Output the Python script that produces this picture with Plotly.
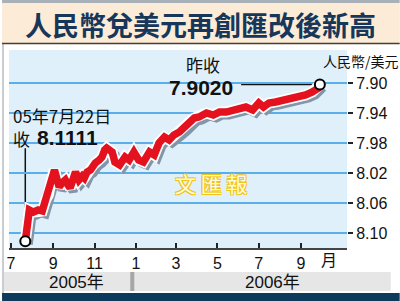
import plotly.graph_objects as go

# ---- data ----
dates = ["2005-07-22", "2005-07-28", "2005-08-03", "2005-08-10", "2005-08-16", "2005-08-21",
         "2005-08-25", "2005-08-30", "2005-09-03", "2005-09-07", "2005-09-10", "2005-09-14",
         "2005-09-19", "2005-09-23", "2005-09-26", "2005-10-01", "2005-10-04", "2005-10-09",
         "2005-10-14", "2005-10-17", "2005-10-21", "2005-10-26", "2005-10-30", "2005-11-02",
         "2005-11-08", "2005-11-12", "2005-11-16", "2005-11-19", "2005-11-27", "2005-12-01",
         "2005-12-08", "2005-12-16", "2005-12-22", "2005-12-29", "2006-01-05", "2006-01-12",
         "2006-01-21", "2006-01-28", "2006-02-04", "2006-02-12", "2006-02-19", "2006-02-26",
         "2006-03-06", "2006-03-13", "2006-03-21", "2006-03-28", "2006-04-04", "2006-04-15",
         "2006-04-25", "2006-05-04", "2006-05-14", "2006-05-24", "2006-06-02", "2006-06-12",
         "2006-06-22", "2006-07-01", "2006-07-08", "2006-07-16", "2006-07-26", "2006-08-10",
         "2006-08-24", "2006-09-08", "2006-09-18", "2006-09-27", "2006-09-29"]
rates = [8.1111, 8.0693, 8.0720, 8.0693, 8.0707, 8.0560,
         8.0493, 8.0267, 8.0160, 8.0293, 8.0387, 8.0333,
         8.0293, 8.0360, 8.0400, 8.0267, 8.0187, 8.0293,
         8.0240, 8.0267, 8.0187, 8.0160, 8.0093, 8.0067,
         8.0027, 7.9987, 7.9893, 7.9867, 7.9920, 8.0053,
         8.0093, 7.9987, 8.0027, 7.9920, 8.0027, 8.0053,
         7.9920, 7.9960, 7.9800, 7.9720, 7.9760, 7.9693,
         7.9653, 7.9600, 7.9520, 7.9467, 7.9453, 7.9400,
         7.9427, 7.9387, 7.9387, 7.9360, 7.9333, 7.9320,
         7.9360, 7.9267, 7.9320, 7.9267, 7.9253, 7.9227,
         7.9200, 7.9160, 7.9120, 7.9067, 7.9020]

x_tick_dates = ["2005-07-01", "2005-09-01", "2005-11-01", "2006-01-01",
                "2006-03-01", "2006-05-01", "2006-07-01", "2006-09-01"]
x_tick_labels = ["7", "9", "11", "1", "3", "5", "7", "9"]
y_tick_vals = [7.90, 7.94, 7.98, 8.02, 8.06, 8.10]
y_tick_labels = ["7.90", "7.94", "7.98", "8.02", "8.06", "8.10"]

title_text = "人民幣兌美元再創匯改後新高"
unit_text = "人民幣/美元"
start_label_date = "05年7月22日"
start_label_prefix = "收"
start_value_text = "8.1111"
end_label_prefix = "昨收"
end_value_text = "7.9020"
year_labels = ["2005年", "2006年"]
month_unit = "月"
watermark = "文 匯 報"

# ---- layout geometry ----
W, H = 400, 301
ML, MR, MT, MB = 7, 53, 50, 53
PW, PH = W - ML - MR, H - MT - MB


def px(x):
    return (x - ML) / PW


def py(y):
    return (H - MB - y) / PH


X_RANGE = ["2005-06-28", "2006-11-08"]
Y_RANGE = [8.12, 7.856]
# shadow axes (shifted ~3px right & down)
X_RANGE_S = ["2005-06-23 14:00", "2006-11-03 14:00"]
Y_RANGE_S = [8.116, 7.852]

RED = "#e3121e"
NUM_FONT = "Liberation Sans, Arial, Noto Sans CJK TC"
CJK_FONT = "Noto Sans CJK TC, Liberation Sans"

fig = go.Figure()

# shadow (overlay axes 2, shifted ranges)
fig.add_trace(go.Scatter(x=dates, y=rates, mode="lines", xaxis="x2", yaxis="y2",
                         line=dict(color="#8396a8", width=9), hoverinfo="skip"))
# white outline + red line + circles (overlay axes 3, drawn on top)
fig.add_trace(go.Scatter(x=dates, y=rates, mode="lines", xaxis="x3", yaxis="y3",
                         line=dict(color="white", width=11), hoverinfo="skip"))
fig.add_trace(go.Scatter(x=dates, y=rates, mode="lines", xaxis="x3", yaxis="y3",
                         line=dict(color=RED, width=7.5), hoverinfo="skip"))
fig.add_trace(go.Scatter(x=[dates[0], dates[-1]], y=[rates[0], rates[-1]], mode="markers",
                         xaxis="x3", yaxis="y3",
                         marker=dict(size=10, color="white", line=dict(color="black", width=2)),
                         hoverinfo="skip"))

fig.update_layout(
    width=W, height=H,
    margin=dict(l=ML, r=MR, t=MT, b=MB),
    paper_bgcolor="white",
    plot_bgcolor="#dff0fb",
    showlegend=False,
    xaxis=dict(type="date", range=X_RANGE, tickvals=x_tick_dates, ticktext=x_tick_labels,
               ticks="inside", ticklen=5, tickwidth=1.5, tickcolor="#222",
               showline=True, linecolor="#444", linewidth=1.5, showgrid=False, zeroline=False,
               tickfont=dict(family=NUM_FONT, size=16, color="#111")),
    yaxis=dict(range=Y_RANGE, side="right", tickvals=y_tick_vals, ticktext=y_tick_labels,
               ticks="outside", ticklen=5, tickwidth=2, tickcolor="#222",
               showgrid=True, gridcolor="#5aaeea", gridwidth=1.5, zeroline=False,
               showline=False, tickfont=dict(family=NUM_FONT, size=16, color="#111")),
    xaxis2=dict(type="date", range=X_RANGE_S, overlaying="x", visible=False),
    yaxis2=dict(range=Y_RANGE_S, overlaying="y", visible=False),
    xaxis3=dict(type="date", range=X_RANGE, overlaying="x", visible=False),
    yaxis3=dict(range=Y_RANGE, overlaying="y", visible=False),
)

shapes = [
    # top border + title band
    dict(type="rect", xref="paper", yref="paper", x0=px(0), x1=px(400), y0=py(3), y1=py(0),
         fillcolor="#a8b0b8", line=dict(width=0), layer="below"),
    dict(type="rect", xref="paper", yref="paper", x0=px(0), x1=px(400), y0=py(43), y1=py(3),
         fillcolor="#fcebd7", line=dict(width=0), layer="below"),
    dict(type="line", xref="paper", yref="paper", x0=px(0), x1=px(400), y0=py(43.5), y1=py(43.5),
         line=dict(color="#4a3c30", width=1.5)),
    # left border
    dict(type="rect", xref="paper", yref="paper", x0=px(0), x1=px(2), y0=py(293), y1=py(43),
         fillcolor="#c8ccd0", line=dict(width=0), layer="below"),
    # year band
    dict(type="rect", xref="paper", yref="paper", x0=px(2), x1=px(391), y0=py(291), y1=py(272),
         fillcolor="#e6e6e6", line=dict(width=0), layer="below"),
    dict(type="rect", xref="paper", yref="paper", x0=px(129), x1=px(133), y0=py(291), y1=py(272),
         fillcolor="#a6a6a6", line=dict(width=0), layer="below"),
    # bottom navy band
    dict(type="rect", xref="paper", yref="paper", x0=px(0), x1=px(400), y0=py(301), y1=py(293),
         fillcolor="#0e3a5c", line=dict(width=0), layer="below"),
    # leader lines
    dict(type="line", xref="x", yref="y", x0=dates[0], x1=dates[0], y0=rates[0], y1=7.987,
         line=dict(color="#111", width=1.5), layer="below"),
    dict(type="line", xref="x", yref="y", x0="2006-06-05", x1=dates[-1], y0=rates[-1], y1=rates[-1],
         line=dict(color="#111", width=1.5), layer="below"),
]
fig.update_layout(shapes=shapes)


def note(text, x, y, size, family, xanchor="center", color="#111", **kw):
    return dict(text=text, xref="paper", yref="paper", x=px(x), y=py(y),
                xanchor=xanchor, yanchor="middle", showarrow=False,
                font=dict(family=family, size=size, color=color, **kw))


annotations = [
    note(f"<b>{title_text}</b>", 200, 24, 27, CJK_FONT, color="#17375a"),
    note(unit_text, 361, 61, 14, CJK_FONT),
    note(start_label_date, 9, 115, 17, CJK_FONT, xanchor="left"),
    note(start_label_prefix, 9, 138, 17, CJK_FONT, xanchor="left"),
    note(f"<b>{start_value_text}</b>", 33, 137, 21, NUM_FONT, xanchor="left"),
    note(end_label_prefix, 202, 64, 17, CJK_FONT),
    note(f"<b>{end_value_text}</b>", 166, 87, 21, NUM_FONT, xanchor="left"),
    note(month_unit, 329, 259, 16, CJK_FONT),
    note(year_labels[0], 75, 282, 17, NUM_FONT),
    note(year_labels[1], 272, 282, 17, NUM_FONT),
    note(watermark, 210, 183, 21, CJK_FONT, color="#fffbe0",
         shadow="1px 1px 0 #f0c418, -1px -1px 0 #f0c418, 1px -1px 0 #f0c418, -1px 1px 0 #f0c418"),
]
fig.update_layout(annotations=annotations)

fig.write_html("out.html")
